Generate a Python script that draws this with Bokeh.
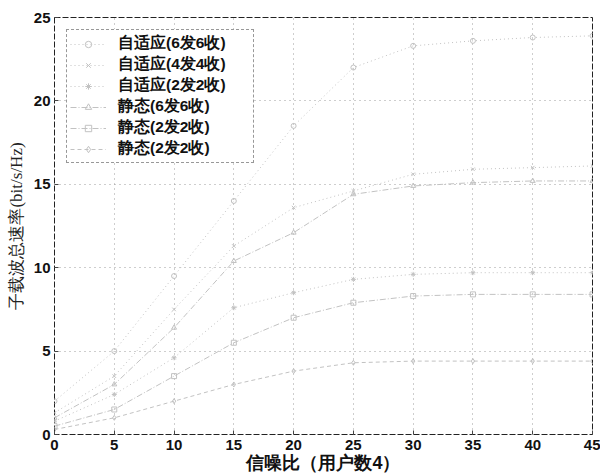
from bokeh.plotting import figure
from bokeh.models import Range1d, Legend, LegendItem, FixedTicker
from bokeh.embed import file_html
from bokeh.resources import INLINE

# ---- data ----
snr = [0, 5, 10, 15, 20, 25, 30, 35, 40, 45]
adaptive_6x6 = [2.0, 5.0, 9.5, 14.0, 18.5, 22.0, 23.3, 23.6, 23.8, 23.9]
adaptive_4x4 = [1.3, 3.5, 7.5, 11.3, 13.6, 14.6, 15.6, 15.9, 16.0, 16.1]
adaptive_2x2 = [0.8, 2.4, 4.6, 7.6, 8.5, 9.3, 9.6, 9.7, 9.7, 9.7]
static_6x6 = [1.0, 3.0, 6.4, 10.4, 12.1, 14.4, 14.9, 15.1, 15.2, 15.2]
static_2x2_a = [0.5, 1.5, 3.5, 5.5, 7.0, 7.9, 8.3, 8.4, 8.4, 8.4]
static_2x2_b = [0.3, 1.0, 2.0, 3.0, 3.8, 4.3, 4.4, 4.4, 4.4, 4.4]

labels = ["自适应(6发6收)", "自适应(4发4收)", "自适应(2发2收)",
          "静态(6发6收)", "静态(2发2收)", "静态(2发2收)"]
x_ticks = [0, 5, 10, 15, 20, 25, 30, 35, 40, 45]
y_ticks = [0, 5, 10, 15, 20, 25]
x_title = "信噪比（用户数4）"
y_title = "子载波总速率(bit/s/Hz)"

series = [adaptive_6x6, adaptive_4x4, adaptive_2x2, static_6x6, static_2x2_a, static_2x2_b]
dashes = ["1 3", "1 3", "1 3", "6 2 1 2", "6 2 1 2", "4 3"]
markers = ["circle", "x", "asterisk", "triangle", "square", "diamond"]
line_col = "#c2c2c2"

p = figure(width=600, height=475, output_backend="svg", toolbar_location=None,
           x_range=Range1d(0, 45), y_range=Range1d(0, 25),
           min_border_left=54, min_border_right=8, min_border_top=17, min_border_bottom=41)

p.background_fill_color = "white"
p.border_fill_color = "white"
p.outline_line_color = "#222222"
p.outline_line_width = 1
p.outline_line_dash = "6 2"

for ax in (p.xaxis, p.yaxis):
    ax.axis_line_color = None
    ax.major_tick_in = 4
    ax.major_tick_out = 0
    ax.minor_tick_line_color = None
    ax.major_tick_line_color = "#444444"
    ax.major_label_text_font = "Liberation Sans"
    ax.major_label_text_font_style = "bold"
    ax.major_label_text_font_size = "15px"
    ax.major_label_text_color = "#111111"

p.xaxis.ticker = FixedTicker(ticks=x_ticks)
p.yaxis.ticker = FixedTicker(ticks=y_ticks)
p.xaxis.major_label_standoff = 5
p.yaxis.major_label_standoff = 4

p.xaxis.axis_label = x_title
p.xaxis.axis_label_text_font = "Liberation Sans"
p.xaxis.axis_label_text_font_style = "bold"
p.xaxis.axis_label_text_font_size = "18px"
p.xaxis.axis_label_text_color = "#111111"
p.xaxis.axis_label_standoff = 0

p.yaxis.axis_label = y_title
p.yaxis.axis_label_text_font = "Liberation Serif"
p.yaxis.axis_label_text_font_style = "normal"
p.yaxis.axis_label_text_font_size = "17px"
p.yaxis.axis_label_text_color = "#222222"
p.yaxis.axis_label_standoff = 5

p.xgrid.grid_line_color = "#9c9c9c"
p.ygrid.grid_line_color = "#9c9c9c"
p.xgrid.grid_line_dash = "1 4"
p.ygrid.grid_line_dash = "1 4"

items = []
for ys, lab, dsh, mk in zip(series, labels, dashes, markers):
    r1 = p.line(snr, ys, line_color=line_col, line_width=1, line_dash=dsh)
    r2 = p.scatter(snr, ys, marker=mk, size=5, line_color=line_col,
                   fill_color=None, line_width=1)
    items.append(LegendItem(label=lab, renderers=[r1, r2]))

legend = Legend(items=items, location="top_left", margin=12)
legend.label_text_font = "Liberation Sans"
legend.label_text_font_style = "bold"
legend.label_text_font_size = "15.5px"
legend.label_text_line_height = 1.0
legend.label_text_color = "#111111"
legend.label_height = 19
legend.label_width = 132
legend.glyph_width = 36
legend.glyph_height = 16
legend.label_standoff = 12
legend.spacing = 0
legend.padding = 3
legend.border_line_color = "#333333"
legend.border_line_dash = "4 2"
legend.border_line_width = 1
legend.background_fill_color = "white"
legend.background_fill_alpha = 1.0
p.add_layout(legend)

open("out.html", "w").write(file_html(p, INLINE))
